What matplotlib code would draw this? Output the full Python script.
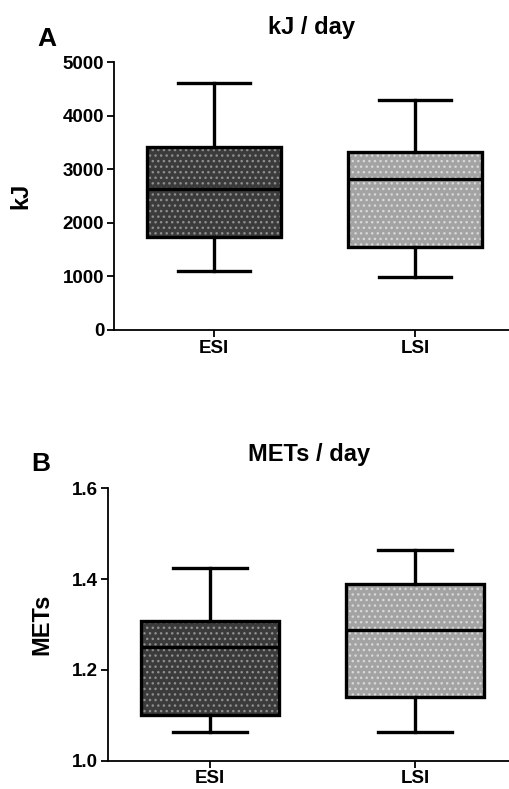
import numpy as np
import matplotlib
matplotlib.use("Agg")
import matplotlib.pyplot as plt
from matplotlib.patches import PathPatch

plt.rcParams['font.family'] = ['Liberation Sans', 'DejaVu Sans']
plt.rcParams['font.weight'] = 'bold'

groups = ['ESI', 'LSI']

# five-number summaries: whislo, q1, med, q3, whishi
kj_stats = [
    [1100, 1730, 2630, 3420, 4600],
    [995, 1555, 2815, 3325, 4300],
]
mets_stats = [
    [1.064, 1.100, 1.251, 1.308, 1.425],
    [1.064, 1.141, 1.288, 1.389, 1.464],
]

kj_ticks = [0, 1000, 2000, 3000, 4000, 5000]
mets_ticks = [1.0, 1.2, 1.4, 1.6]

fills = ['#3b3b3b', '#a3a3a3']
dots = ['#8f8f8f', '#d8d8d8']

fig = plt.figure(figsize=(5.10, 7.89), dpi=100)


def draw_panel(ax, stats, ylim, yticks, ylabel, title, letter, ylabel_x, letter_xy):
    bx = []
    for name, s in zip(groups, stats):
        bx.append({'label': name, 'whislo': s[0], 'q1': s[1], 'med': s[2],
                   'q3': s[3], 'whishi': s[4], 'fliers': []})
    res = ax.bxp(bx, positions=[1, 2], widths=0.67, patch_artist=True,
                 showfliers=False,
                 boxprops=dict(linewidth=2.4, edgecolor='black'),
                 medianprops=dict(linewidth=2.4, color='black'),
                 whiskerprops=dict(linewidth=2.4, color='black'),
                 capprops=dict(linewidth=2.4, color='black'),
                 capwidths=0.36)
    for box, fc, dc in zip(res['boxes'], fills, dots):
        under = PathPatch(box.get_path(), facecolor=fc, edgecolor=dc,
                          hatch='...', linewidth=0, zorder=box.get_zorder() - 0.1)
        ax.add_patch(under)
        box.set_facecolor('none')

    ax.set_ylim(*ylim)
    ax.set_yticks(yticks)
    ax.set_ylabel(ylabel, fontsize=17, fontweight='bold')
    ax.yaxis.set_label_coords(ylabel_x, 0.5)
    ax.set_title(title, fontsize=17, fontweight='bold', pad=20, x=0.5)
    ax.spines['top'].set_visible(False)
    ax.spines['right'].set_visible(False)
    ax.spines['left'].set_linewidth(1.3)
    ax.spines['bottom'].set_linewidth(1.3)
    ax.tick_params(axis='both', width=1.3, length=5, pad=2, labelsize=13.5)
    for lab in ax.get_xticklabels() + ax.get_yticklabels():
        lab.set_fontweight('bold')
    ax.text(letter_xy[0], letter_xy[1], letter, transform=ax.transAxes,
            fontsize=19, fontweight='bold', ha='center', va='center')


ax1 = fig.add_axes([114 / 510, 1 - 330 / 789, 396 / 510, 268 / 789])
ax1.set_xlim(0.5025, 2.473)
draw_panel(ax1, kj_stats, (0, 5000), kj_ticks, 'kJ', 'kJ / day', 'A',
           -0.207, (-0.169, 1.086))
ax1.set_yticklabels([str(t) for t in kj_ticks])

ax2 = fig.add_axes([108 / 510, 1 - 760.7 / 789, 402 / 510, 272.4 / 789])
ax2.set_xlim(0.502, 2.463)
draw_panel(ax2, mets_stats, (1.0, 1.6), mets_ticks, 'METs', 'METs / day', 'B',
           -0.137, (-0.167, 1.089))
ax2.set_yticklabels(['%.1f' % t for t in mets_ticks])

fig.savefig('out.png', dpi=100)
